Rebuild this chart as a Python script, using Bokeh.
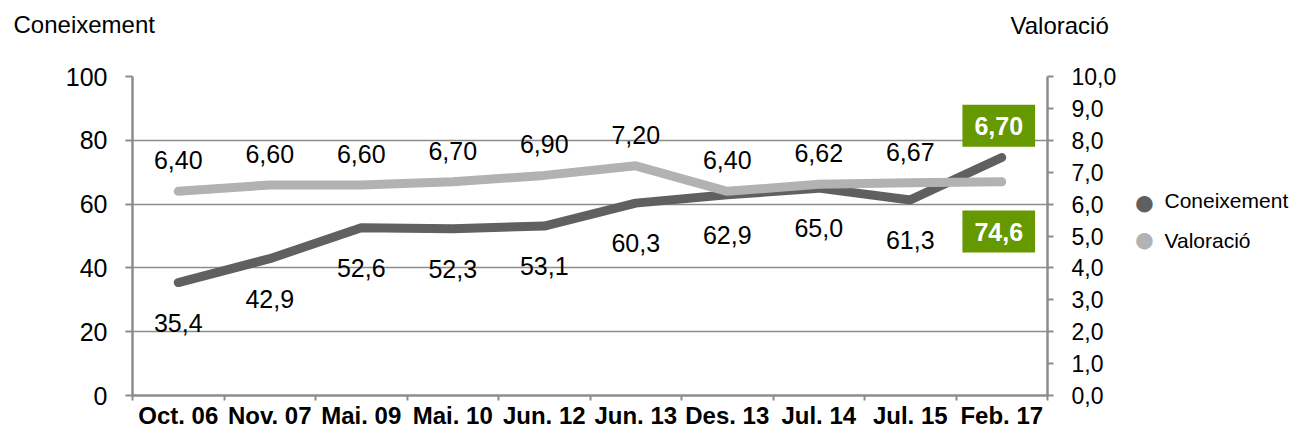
from bokeh.plotting import figure
from bokeh.models import (Range1d, LinearAxis, FixedTicker, CustomJSTickFormatter,
                          ColumnDataSource, Label)
from bokeh.core.properties import value
from bokeh.embed import file_html
from bokeh.resources import INLINE

# ---- data ----
categories = ["Oct. 06", "Nov. 07", "Mai. 09", "Mai. 10", "Jun. 12",
              "Jun. 13", "Des. 13", "Jul. 14", "Jul. 15", "Feb. 17"]
coneixement = [35.4, 42.9, 52.6, 52.3, 53.1, 60.3, 62.9, 65.0, 61.3, 74.6]
valoracio = [6.40, 6.60, 6.60, 6.70, 6.90, 7.20, 6.40, 6.62, 6.67, 6.70]
left_ticks = [0, 20, 40, 60, 80, 100]
right_ticks = [0, 1, 2, 3, 4, 5, 6, 7, 8, 9, 10]
series_names = ["Coneixement", "Valoració"]

FONT = "Liberation Sans"
GRAY = "#8c8c8c"
DARK = "#606060"
LIGHT = "#b2b2b2"
GREEN = "#669900"

n = len(categories)
xc = [i + 0.5 for i in range(n)]
con_lbl = [f"{v:.1f}".replace(".", ",") for v in coneixement]
val_lbl = [f"{v:.2f}".replace(".", ",") for v in valoracio]

src = ColumnDataSource(dict(x=xc, con=coneixement, val=valoracio,
                            con_lbl=con_lbl, val_lbl=val_lbl))
src_main = ColumnDataSource(dict(x=xc[:-1], con=coneixement[:-1], val=valoracio[:-1],
                                 con_lbl=con_lbl[:-1], val_lbl=val_lbl[:-1]))
src_last = ColumnDataSource(dict(x=xc[-1:], con=coneixement[-1:], val=valoracio[-1:],
                                 con_lbl=con_lbl[-1:], val_lbl=val_lbl[-1:]))

p = figure(width=1293, height=431, x_range=Range1d(0, n), y_range=Range1d(0, 100),
           output_backend="svg", toolbar_location=None,
           min_border_left=132, min_border_right=246, min_border_top=76, min_border_bottom=34)
p.extra_y_ranges = {"val": Range1d(0, 10)}
p.outline_line_color = None
p.background_fill_color = "white"
p.border_fill_color = "white"

# grid
p.xgrid.visible = False
p.ygrid.ticker = FixedTicker(ticks=left_ticks)
p.ygrid.grid_line_color = GRAY
p.ygrid.grid_line_width = 1.5

# left axis
ya = p.yaxis[0]
ya.ticker = FixedTicker(ticks=left_ticks)
ya.axis_line_color = GRAY
ya.axis_line_width = 2.5
ya.major_tick_line_color = GRAY
ya.major_tick_line_width = 2
ya.major_tick_out = 7
ya.major_tick_in = 0
ya.minor_tick_line_color = None
ya.major_label_text_font = FONT
ya.major_label_text_font_size = "25px"
ya.major_label_text_color = "black"
ya.major_label_standoff = 18

# bottom axis
xa = p.xaxis[0]
xa.ticker = FixedTicker(ticks=xc, minor_ticks=list(range(n + 1)))
xa.formatter = CustomJSTickFormatter(args=dict(labels=categories),
                                     code="const i = Math.floor(tick); return (i >= 0 && i < labels.length) ? labels[i] : '';")
xa.axis_line_color = GRAY
xa.axis_line_width = 2.5
xa.major_tick_line_color = None
xa.major_tick_out = 0
xa.major_tick_in = 0
xa.minor_tick_line_color = GRAY
xa.minor_tick_line_width = 2
xa.minor_tick_out = 5
xa.minor_tick_in = 0
xa.major_label_text_font = FONT
xa.major_label_text_font_style = "bold"
xa.major_label_text_font_size = "24px"
xa.major_label_text_color = "black"
xa.major_label_standoff = 1

# right axis
ra = LinearAxis(y_range_name="val", ticker=FixedTicker(ticks=right_ticks),
                formatter=CustomJSTickFormatter(code="return tick.toFixed(1).replace('.', ',');"))
ra.axis_line_color = GRAY
ra.axis_line_width = 2.5
ra.major_tick_line_color = GRAY
ra.major_tick_line_width = 2
ra.major_tick_out = 6
ra.major_tick_in = 0
ra.minor_tick_line_color = None
ra.major_label_text_font = FONT
ra.major_label_text_font_size = "23px"
ra.major_label_text_color = "black"
ra.major_label_standoff = 18
p.add_layout(ra, "right")

# lines
p.line(x="x", y="con", source=src, line_color=DARK, line_width=9,
       line_cap="round", line_join="round")
p.line(x="x", y="val", source=src, y_range_name="val", line_color=LIGHT, line_width=9,
       line_cap="round", line_join="round")

# data labels
p.text(x="x", y="con", text="con_lbl", source=src_main, y_offset=40,
       text_align="center", text_baseline="middle", text_font=value(FONT),
       text_font_size="25px", text_color="black")
p.text(x="x", y="val", text="val_lbl", source=src_main, y_range_name="val", y_offset=-31,
       text_align="center", text_baseline="middle", text_font=value(FONT),
       text_font_size="25px", text_color="black")

# highlighted last labels
p.text(x="x", y="con", text="con_lbl", source=src_last, x_offset=-3, y_offset=74,
       text_align="center", text_baseline="middle", text_font=value(FONT),
       text_font_size="25px", text_font_style="bold", text_color="white",
       background_fill_color=GREEN, padding=dict(left=12, right=12, top=12, bottom=12))
p.text(x="x", y="val", text="val_lbl", source=src_last, y_range_name="val", x_offset=-3, y_offset=-56,
       text_align="center", text_baseline="middle", text_font=value(FONT),
       text_font_size="25px", text_font_style="bold", text_color="white",
       background_fill_color=GREEN, padding=dict(left=12, right=12, top=12, bottom=12))

# axis titles in the top panel
p.add_layout(Label(x=-119, y=52, x_units="screen", y_units="screen", text=series_names[0],
                   text_baseline="middle", text_align="left", text_font=FONT,
                   text_font_size="24px", text_color="black"), "above")
p.add_layout(Label(x=878, y=24, x_units="screen", y_units="screen", text=series_names[1],
                   text_baseline="middle", text_align="left", text_font=FONT,
                   text_font_size="24px", text_color="black"), "above")

# legend: texts in the right panel, circle markers in the left panel
p.add_layout(Label(x=45, y=175, x_units="screen", y_units="screen",
                   text="\n".join(series_names), text_baseline="middle", text_align="left",
                   text_font=FONT, text_font_size="21px", text_line_height=1.76,
                   text_color="black"), "right")
p.add_layout(Label(x=1105, y=194, x_units="screen", y_units="screen", text="\u25cf",
                   text_baseline="middle", text_align="center", text_font=FONT,
                   text_font_size="38px", text_color=DARK), "left")
p.add_layout(Label(x=1128, y=157, x_units="screen", y_units="screen", text="\u25cf",
                   text_baseline="middle", text_align="center", text_font=FONT,
                   text_font_size="38px", text_color=LIGHT), "left")

open("out.html", "w").write(file_html(p, INLINE))
